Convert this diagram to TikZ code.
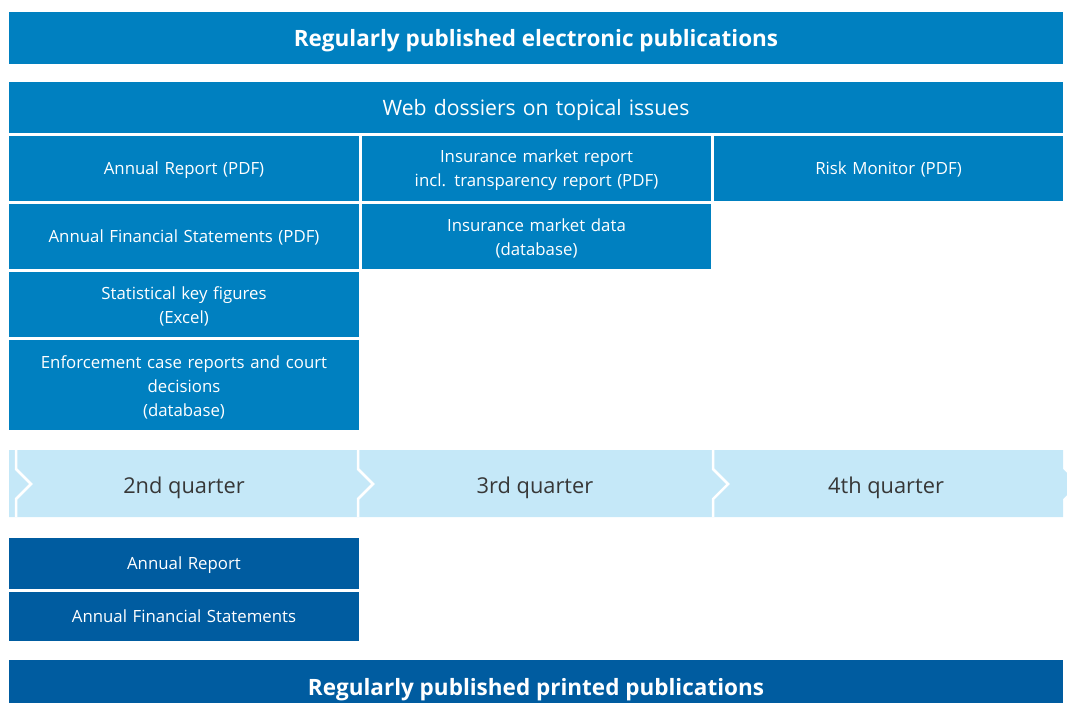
\documentclass[tikz,border=0pt]{standalone}
\usepackage{fontspec}
\setmainfont{Open Sans}
\usepackage{tikz}
\definecolor{elecblue}{RGB}{0,128,192}
\definecolor{printblue}{RGB}{0,92,160}
\definecolor{quarterblue}{RGB}{197,232,248}
\definecolor{quartertext}{RGB}{55,55,55}
\newcommand{\toppad}{\rule{0pt}{17pt}}

\begin{document}
\begin{tikzpicture}[x=1pt, y=-1pt,
    oneline/.style={text depth=0pt},
    headbox/.style={fill=#1, text=white, inner sep=0pt, minimum width=1054pt, oneline,
        font=\bfseries\fontsize{22.5}{26}\selectfont},
    pubbox/.style={fill=elecblue, text=white, inner sep=0pt, align=center,
        minimum width=349.5pt, text width=340pt, font=\fontsize{16.8}{24}\selectfont},
    printbox/.style={pubbox, fill=printblue},
    quarterlabel/.style={text=quartertext, oneline, font=\fontsize{21.8}{26}\selectfont}]
    \useasboundingbox (0,0) rectangle (1067,702);
    \clip (0,0) rectangle (1067,702);

    % Electronic publications
    \node[headbox=elecblue, minimum height=52pt] at (536,38) (elechead) {Regularly published electronic publications};
    \node[pubbox, oneline, minimum width=1054pt, text width=1000pt, minimum height=51pt,
        font=\fontsize{21.2}{26}\selectfont] at (536,107.5) (dossiers) {Web dossiers on topical issues};

    % 2nd quarter column
    \node[pubbox, oneline, minimum height=65pt] at (184,168.5) (annrep) {Annual Report (PDF)};
    \node[pubbox, oneline, minimum height=65pt] at (184,236.5) (annfin) {Annual Financial Statements (PDF)};
    \node[pubbox, minimum height=65pt] at (184,304.5) (keyfig) {\toppad Statistical key figures\\(Excel)};
    \node[pubbox, minimum height=90pt] at (184,385) (enforce) {\toppad Enforcement case reports and court\\decisions\\(database)};

    % 3rd quarter column
    \node[pubbox, minimum height=65pt] at (536.5,168.5) (mktrep) {\toppad Insurance market report\\incl. transparency report (PDF)};
    \node[pubbox, minimum height=65pt] at (536.5,236.5) (mktdata) {\toppad Insurance market data\\(database)};

    % 4th quarter column
    \node[pubbox, oneline, minimum height=65pt] at (888.5,168.5) (riskmon) {Risk Monitor (PDF)};

    % Quarter band
    \fill[quarterblue] (9,450) -- (1063,450) -- (1063,469) -- (1078,484) -- (1063,499) -- (1063,517) -- (9,517) -- cycle;
    \foreach \sx in {16,358,713}
        \draw[white, line width=2.5pt] (\sx,450) -- (\sx,469) -- ({\sx+15},484) -- (\sx,499) -- (\sx,517);
    \node[quarterlabel] at (184,485) (q2) {2nd quarter};
    \node[quarterlabel] at (535,485) (q3) {3rd quarter};
    \node[quarterlabel] at (886,485) (q4) {4th quarter};

    % Printed publications
    \node[printbox, oneline, minimum height=51pt] at (184,563.5) (annrepprint) {Annual Report};
    \node[printbox, oneline, minimum height=49pt] at (184,616.5) (annfinprint) {Annual Financial Statements};
    \node[headbox=printblue, minimum height=54pt] at (536,687) (printhead) {Regularly published printed publications};

\end{tikzpicture}
\end{document}
